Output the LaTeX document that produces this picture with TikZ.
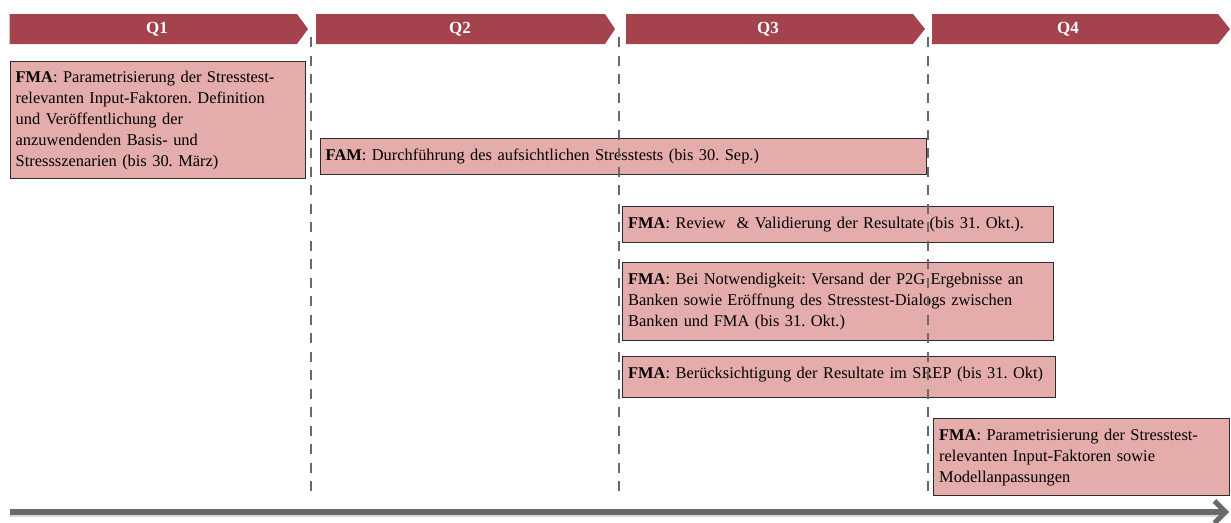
\documentclass[tikz,border=0pt]{standalone}
\usepackage{fontspec}
\setmainfont{Liberation Serif}
\usetikzlibrary{arrows.meta}
\definecolor{qred}{RGB}{164,67,78}
\definecolor{taskfill}{RGB}{228,173,171}
\definecolor{taskline}{RGB}{45,45,45}
\definecolor{gridgray}{RGB}{105,105,105}
\newcommand{\taskfont}{\fontsize{16.4}{21}\selectfont\frenchspacing}
\begin{document}
\begin{tikzpicture}[x=1pt, y=-1pt,
		task/.style = {draw=taskline, fill=taskfill, line width=1.4pt, anchor=north west, align=left, inner xsep=5.5pt, inner ysep=2pt, font=\taskfont},
		quarter/.style = {fill=qred},
		qlabel/.style = {text=white, font=\fontsize{17}{19}\selectfont\bfseries},
		grid/.style = {draw=gridgray, line width=2.6pt, dash pattern=on 10pt off 8.5pt},
		timeline/.style = {draw=gridgray, line width=6pt, -{Straight Barb[length=11pt, width=22pt, line width=5pt]}}]
			\useasboundingbox (0,0) rectangle (1231,522);
			% quarters
			\foreach \xa/\xn/\xt/\name/\xl in {9.5/297/308/Q1/157, 316/605/615/Q2/460, 626/913/925/Q3/768, 932/1218/1230/Q4/1068} {
				\fill[quarter] (\xa,14) -- (\xn,14) -- (\xt,29) -- (\xn,44) -- (\xa,44) -- cycle;
				\node[qlabel] (\name) at (\xl,29) {\name};
			}
			% tasks
			\node[task, text width=284pt, minimum height=117pt] (t1) at (9.5,61) {\textbf{FMA}: Parametrisierung der Stresstest-\\relevanten Input-Faktoren. Definition\\und Veröffentlichung der\\anzuwendenden Basis- und\\Stressszenarien (bis 30. März)};
			\node[task, text width=595.5pt, minimum height=36pt] (t2) at (319.5,138) {\textbf{FAM}: Durchführung des aufsichtlichen Stresstests (bis 30. Sep.)};
			\node[task, text width=420pt, minimum height=36pt] (t3) at (622,206) {\textbf{FMA}: Review\ \ \& Validierung der Resultate (bis 31. Okt.).};
			\node[task, text width=420pt, minimum height=78pt] (t4) at (622,262) {\textbf{FMA}: Bei Notwendigkeit: Versand der P2G Ergebnisse an\\Banken sowie Eröffnung des Stresstest-Dialogs zwischen\\Banken und FMA (bis 31. Okt.)};
			\node[task, text width=422pt, minimum height=41pt, text depth=9pt] (t5) at (622,356) {\mbox{\textbf{FMA}: Berücksichtigung der Resultate im SREP (bis 31. Okt)}};
			\node[task, text width=285pt, minimum height=77pt] (t6) at (933,418) {\textbf{FMA}: Parametrisierung der Stresstest-\\relevanten Input-Faktoren sowie\\Modellanpassungen};
			% quarter borders
			\foreach \x in {311, 619, 928}
				\draw[grid] (\x,37) -- (\x,497);
			% time axis
			\coordinate (start) at (9.5,512);
			\coordinate (end) at (1229,512);
			\draw[draw=gray!30, line width=4pt] ([yshift=-3pt]start) -- ([xshift=-12pt, yshift=-3pt]end);
			\draw[timeline] (start) -- (end);
		\end{tikzpicture}
\end{document}
